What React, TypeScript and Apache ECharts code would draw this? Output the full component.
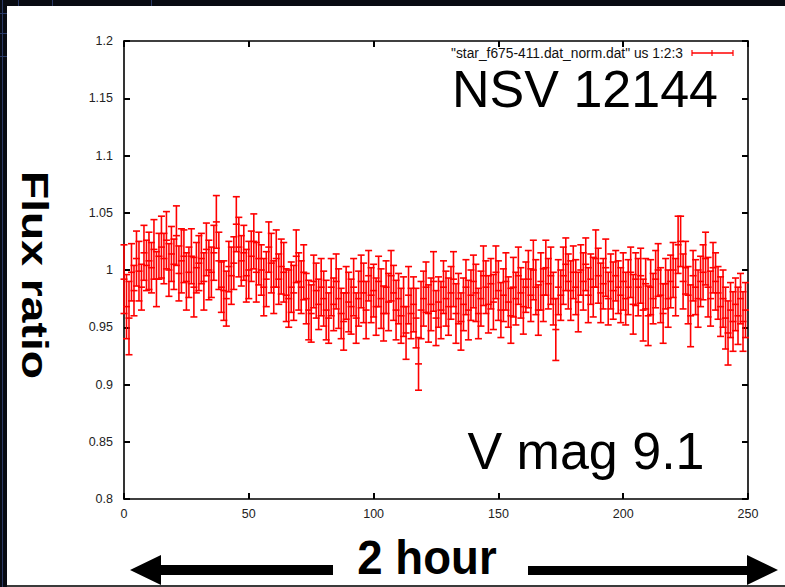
import React, { useEffect, useRef } from "react";
import * as echarts from "echarts";

// Normalised flux ratio per frame (frame index 0..249)
const FLUX: number[] = [
  0.992, 0.968, 0.958, 0.998, 0.982, 1.010, 0.999, 0.985, 1.015, 1.004,
  1.008, 1.002, 1.018, 0.992, 1.012, 1.020, 1.010, 1.026, 1.000, 1.014,
  1.005, 1.030, 0.997, 1.008, 1.012, 0.990, 0.998, 1.012, 0.985, 1.002,
  1.006, 1.010, 0.990, 1.018, 1.000, 0.998, 1.015, 1.042, 1.008, 0.985,
  0.982, 0.975, 1.003, 0.995, 1.006, 1.040, 1.020, 1.008, 1.015, 0.995,
  1.000, 1.012, 1.025, 0.998, 1.010, 1.000, 0.985, 0.992, 1.020, 1.006,
  0.985, 1.010, 0.992, 1.003, 0.998, 0.978, 0.975, 0.985, 0.980, 1.012,
  0.990, 0.985, 0.998, 0.975, 0.965, 0.962, 0.990, 0.982, 0.970, 0.985,
  0.975, 0.965, 0.958, 0.985, 0.970, 0.990, 0.975, 0.962, 0.955, 0.980,
  0.972, 0.968, 0.985, 0.958, 0.975, 0.990, 0.980, 0.965, 0.995, 0.978,
  0.982, 0.968, 0.990, 0.975, 0.962, 0.985, 0.972, 0.995, 0.980, 0.965,
  0.975, 0.960, 0.968, 0.945, 0.978, 0.962, 0.970, 0.958, 0.918, 0.965,
  0.975, 0.985, 0.962, 0.970, 0.990, 0.958, 0.972, 0.965, 0.985, 0.975,
  0.968, 0.980, 0.992, 0.962, 0.975, 0.955, 0.970, 0.985, 0.965, 0.978,
  0.990, 0.980, 0.962, 0.975, 0.995, 0.985, 0.970, 0.988, 0.972, 0.998,
  0.982, 0.965, 0.978, 0.990, 0.972, 0.960, 0.985, 0.975, 0.995, 0.980,
  0.968, 0.985, 0.992, 0.978, 1.000, 0.985, 0.965, 0.990, 0.978, 1.002,
  0.988, 0.995, 0.975, 0.948, 0.985, 0.978, 0.995, 1.005, 0.990, 0.982,
  0.998, 0.985, 0.972, 1.000, 0.990, 1.005, 0.978, 0.992, 0.985, 1.010,
  0.995, 0.980, 0.988, 1.002, 0.975, 0.990, 0.982, 0.995, 0.985, 0.978,
  0.990, 0.975, 0.985, 0.998, 0.970, 0.992, 0.985, 0.995, 0.965, 0.988,
  0.960, 0.985, 0.975, 0.992, 1.000, 0.978, 0.962, 0.988, 0.975, 0.990,
  1.000, 0.985, 1.022, 1.025, 0.990, 1.002, 0.978, 0.960, 0.995, 0.985,
  0.975, 0.990, 0.998, 1.010, 0.985, 0.975, 1.002, 0.990, 0.980, 0.968,
  0.975, 0.958, 0.945, 0.965, 0.955, 0.970, 0.960, 0.975, 0.955, 0.965,
];

// Half-length of each error bar
const ERR: number[] = [
  0.030, 0.028, 0.032, 0.025, 0.022, 0.024, 0.026, 0.020, 0.024, 0.022,
  0.025, 0.022, 0.026, 0.024, 0.020, 0.027, 0.022, 0.025, 0.023, 0.024,
  0.022, 0.026, 0.024, 0.028, 0.023, 0.025, 0.022, 0.024, 0.026, 0.022,
  0.024, 0.022, 0.025, 0.023, 0.026, 0.022, 0.024, 0.023, 0.025, 0.022,
  0.026, 0.024, 0.022, 0.025, 0.023, 0.024, 0.026, 0.022, 0.024, 0.023,
  0.025, 0.022, 0.024, 0.026, 0.023, 0.022, 0.025, 0.024, 0.022, 0.026,
  0.023, 0.025, 0.022, 0.024, 0.026, 0.023, 0.025, 0.022, 0.024, 0.023,
  0.025, 0.023, 0.024, 0.022, 0.026, 0.025, 0.023, 0.024, 0.022, 0.025,
  0.024, 0.026, 0.022, 0.025, 0.023, 0.024, 0.026, 0.022, 0.025, 0.023,
  0.026, 0.024, 0.025, 0.022, 0.024, 0.023, 0.026, 0.025, 0.022, 0.024,
  0.023, 0.025, 0.022, 0.026, 0.024, 0.023, 0.025, 0.022, 0.024, 0.026,
  0.022, 0.024, 0.026, 0.023, 0.025, 0.022, 0.024, 0.026, 0.023, 0.025,
  0.024, 0.022, 0.025, 0.023, 0.026, 0.024, 0.022, 0.025, 0.023, 0.024,
  0.025, 0.023, 0.024, 0.026, 0.022, 0.025, 0.023, 0.024, 0.026, 0.022,
  0.023, 0.025, 0.022, 0.024, 0.026, 0.023, 0.025, 0.022, 0.024, 0.023,
  0.026, 0.024, 0.023, 0.025, 0.022, 0.024, 0.026, 0.023, 0.025, 0.022,
  0.024, 0.022, 0.025, 0.023, 0.026, 0.024, 0.022, 0.025, 0.023, 0.024,
  0.022, 0.025, 0.023, 0.027, 0.024, 0.022, 0.025, 0.023, 0.024, 0.026,
  0.023, 0.024, 0.026, 0.022, 0.025, 0.023, 0.024, 0.022, 0.026, 0.025,
  0.024, 0.026, 0.022, 0.025, 0.023, 0.024, 0.025, 0.022, 0.023, 0.024,
  0.025, 0.023, 0.024, 0.022, 0.026, 0.023, 0.025, 0.024, 0.027, 0.022,
  0.026, 0.024, 0.022, 0.025, 0.023, 0.024, 0.026, 0.022, 0.025, 0.023,
  0.024, 0.025, 0.025, 0.022, 0.024, 0.023, 0.025, 0.027, 0.022, 0.024,
  0.025, 0.022, 0.024, 0.023, 0.026, 0.024, 0.022, 0.025, 0.023, 0.026,
  0.025, 0.027, 0.028, 0.024, 0.026, 0.023, 0.025, 0.022, 0.026, 0.024,
];

const X_MIN = 0;
const X_MAX = 250;
const X_STEP = 50;
const Y_MIN = 0.8;
const Y_MAX = 1.2;
const Y_STEP = 0.05;

const LEGEND_TEXT = '"star_f675-411.dat_norm.dat" us 1:2:3';
const TITLE_TEXT = "NSV 12144";
const MAG_TEXT = "V mag 9.1";
const Y_TITLE = "Flux ratio";
const X_TITLE = "2 hour";

const RED = "#ff0000";
const FONT = "'Liberation Sans', Arial, sans-serif";

export default function App() {
  const ref = useRef<HTMLDivElement>(null);

  useEffect(() => {
    if (!ref.current) return;
    const chart = echarts.init(ref.current, undefined, { renderer: "svg" });
    const data = FLUX.map((v, i) => [i, v, ERR[i]]);

    const axisLine = { show: true, onZero: false, lineStyle: { color: "#000", width: 1.6 } };
    const tick = { show: true, inside: true, length: 6, lineStyle: { color: "#000", width: 2 } };
    const label = { fontSize: 12.5, color: "#222", fontFamily: FONT };

    chart.setOption({
      animation: false,
      backgroundColor: "transparent",
      grid: { left: 124, right: 37, top: 41, bottom: 88, containLabel: false },
      xAxis: [
        {
          type: "value", min: X_MIN, max: X_MAX, interval: X_STEP,
          axisLine, axisTick: tick, splitLine: { show: false },
          axisLabel: { ...label, margin: 8 },
        },
        {
          type: "value", position: "top", min: X_MIN, max: X_MAX, interval: X_STEP,
          axisLine, axisTick: tick, splitLine: { show: false },
          axisLabel: { show: false },
        },
      ],
      yAxis: [
        {
          type: "value", min: Y_MIN, max: Y_MAX, interval: Y_STEP,
          axisLine, axisTick: tick, splitLine: { show: false },
          axisLabel: { ...label, margin: 11 },
        },
        {
          type: "value", position: "right", min: Y_MIN, max: Y_MAX, interval: Y_STEP,
          axisLine, axisTick: tick, splitLine: { show: false },
          axisLabel: { show: false },
        },
      ],
      series: [
        {
          type: "custom",
          xAxisIndex: 0,
          yAxisIndex: 0,
          data,
          renderItem: (params: any, api: any) => {
            const x = api.value(0);
            const y = api.value(1);
            const e = api.value(2);
            const top = api.coord([x, y + e]);
            const bot = api.coord([x, y - e]);
            const mid = api.coord([x, y]);
            const hw = 3.5;
            const st = { stroke: RED, lineWidth: 1.6 };
            return {
              type: "group",
              children: [
                { type: "line", shape: { x1: top[0], y1: top[1], x2: bot[0], y2: bot[1] }, style: st },
                { type: "line", shape: { x1: top[0] - hw, y1: top[1], x2: top[0] + hw, y2: top[1] }, style: st },
                { type: "line", shape: { x1: bot[0] - hw, y1: bot[1], x2: bot[0] + hw, y2: bot[1] }, style: st },
                { type: "line", shape: { x1: mid[0] - hw, y1: mid[1], x2: mid[0] + hw, y2: mid[1] }, style: st },
              ],
            };
          },
        },
      ],
      graphic: [
        // legend
        {
          type: "text", x: 683, y: 53,
          style: {
            text: LEGEND_TEXT, x: 0, y: 0, fill: "#111",
            font: `13.8px ${FONT}`, align: "right", verticalAlign: "middle",
            textAlign: "right", textVerticalAlign: "middle",
          },
        },
        { type: "line", shape: { x1: 692, y1: 53, x2: 733, y2: 53 }, style: { stroke: RED, lineWidth: 1.5 } },
        { type: "line", shape: { x1: 692, y1: 50, x2: 692, y2: 56 }, style: { stroke: RED, lineWidth: 1.2 } },
        { type: "line", shape: { x1: 712, y1: 50, x2: 712, y2: 56 }, style: { stroke: RED, lineWidth: 1.2 } },
        { type: "line", shape: { x1: 733, y1: 50, x2: 733, y2: 56 }, style: { stroke: RED, lineWidth: 1.2 } },
        // big labels
        {
          type: "text", x: 585, y: 115,
          style: {
            text: TITLE_TEXT, x: 0, y: 0, fill: "#000",
            font: `52px ${FONT}`, align: "center", verticalAlign: "bottom",
            textAlign: "center", textVerticalAlign: "bottom",
          },
        },
        {
          type: "text", x: 586, y: 477,
          style: {
            text: MAG_TEXT, x: 0, y: 0, fill: "#000",
            font: `52px ${FONT}`, align: "center", verticalAlign: "bottom",
            textAlign: "center", textVerticalAlign: "bottom",
          },
        },
        {
          type: "text", x: 35, y: 275, rotation: -Math.PI / 2, scaleX: 1.25,
          style: {
            text: Y_TITLE, x: 0, y: 0, fill: "#000",
            font: `bold 37px ${FONT}`, align: "center", verticalAlign: "middle",
            textAlign: "center", textVerticalAlign: "middle",
          },
        },
        {
          type: "text", x: 427, y: 558, scaleX: 0.95,
          style: {
            text: X_TITLE, x: 0, y: 0, fill: "#000",
            font: `bold 48px ${FONT}`, align: "center", verticalAlign: "middle",
            textAlign: "center", textVerticalAlign: "middle",
          },
        },
        // arrows
        {
          type: "polygon",
          shape: { points: [[130, 570], [161, 555], [161, 565], [333, 565], [333, 575], [161, 575], [161, 585]] },
          style: { fill: "#000" },
        },
        {
          type: "polygon",
          shape: { points: [[778, 570], [747, 555], [747, 566], [528, 566], [528, 575], [747, 575], [747, 585]] },
          style: { fill: "#000" },
        },
      ],
    });
    return () => chart.dispose();
  }, []);

  const line = (style: React.CSSProperties) => (
    <div style={{ position: "absolute", background: "#2a3a66", ...style }} />
  );

  return (
    <div style={{ position: "fixed", left: 0, top: 0, width: 785, height: 587, background: "#080b12", overflow: "hidden" }}>
      {line({ left: 2, top: 0, width: 1, height: 587 })}
      {line({ left: 0, top: 13, width: 7, height: 1 })}
      {line({ left: 0, top: 33, width: 7, height: 1 })}
      {line({ left: 0, top: 56, width: 7, height: 1 })}
      {line({ left: 18, top: 0, width: 1, height: 6 })}
      {line({ left: 52, top: 0, width: 1, height: 6 })}
      {line({ left: 151, top: 0, width: 1, height: 6 })}
      <div style={{ position: "absolute", left: 7, top: 6, width: 778, height: 579, background: "#fff" }} />
      <div style={{ position: "absolute", left: 7, top: 585, width: 778, height: 2, background: "#3a3a3a" }} />
      <div ref={ref} style={{ position: "absolute", left: 0, top: 0, width: 785, height: 587 }} />
    </div>
  );
}
